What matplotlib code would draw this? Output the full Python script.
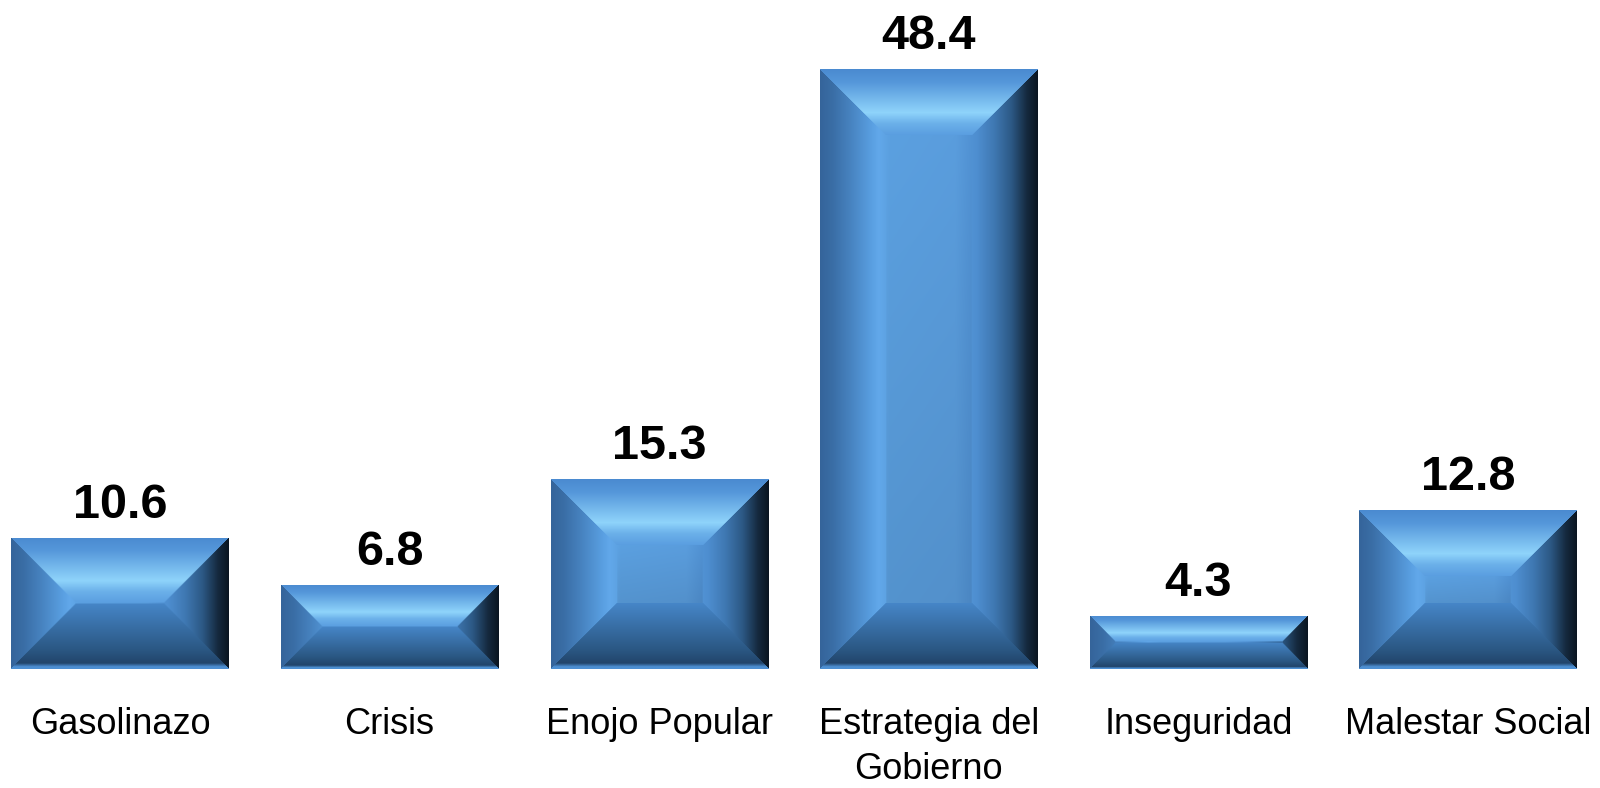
import numpy as np
import matplotlib
matplotlib.use('agg')
import matplotlib.pyplot as plt
from matplotlib.colors import to_rgb

categories = ['Gasolinazo', 'Crisis', 'Enojo Popular', 'Estrategia del\nGobierno', 'Inseguridad', 'Malestar Social']
values = [10.6, 6.8, 15.3, 48.4, 4.3, 12.8]

FONT = ['Liberation Sans Narrow', 'Liberation Sans', 'DejaVu Sans']

# colour ramps for the bevelled bars
# top / bottom: t = 0 at the outer edge, 1 at the inner edge of the bevel
TOP = [(0, '#4a8ad0'), (0.2, '#5597da'), (0.66, '#8fd4fb'), (0.82, '#6cb1ea'), (1, '#5a9ee0')]
BOTTOM = [(0, '#4d8fd2'), (0.035, '#4d8fd2'), (0.09, '#22456b'), (0.3, '#2b5884'), (1, '#4686c8')]
# sides and face share one horizontal ramp, s = 0 at left edge, 1 at right edge
ACROSS = [(0, '#35649a'), (0.06, '#3a6ea6'), (0.14, '#4783c0'), (0.24, '#5aa0e2'), (0.27, '#62a8ea'),
          (0.32, '#5ba0e0'), (0.62, '#5a9ddd'), (0.72, '#4e8ed0'), (0.8, '#3f78b2'),
          (0.88, '#2c5884'), (0.95, '#15293e'), (1, '#0a1520')]


def ramp(t, stops):
    pos = [s[0] for s in stops]
    cols = np.array([to_rgb(s[1]) for s in stops])
    return np.stack([np.interp(t, pos, cols[:, k]) for k in range(3)], axis=-1)


def bevel_image(W, H, d):
    u = np.arange(W) + 0.5
    v = np.arange(H) + 0.5
    U, V = np.meshgrid(u, v)
    dt, db = V, H - V
    ds = np.minimum(U, W - U)
    img = ramp(U / W, ACROSS)
    # slightly darker lower part of the face
    face = (ds >= d) & (dt >= d) & (db >= d)
    shade = 1.0 - 0.08 * np.clip((V - d) / max(H - 2 * d, 1), 0, 1)
    img[face] *= shade[face][:, None]
    top = (dt < d) & (dt <= ds) & (dt <= db)
    img[top] = ramp(dt[top] / d, TOP)
    bot = (db < d) & (db <= ds) & (db < dt)
    img[bot] = ramp(db[bot] / d, BOTTOM)
    return img


fig = plt.figure(figsize=(16, 7.88), dpi=100)
ax = fig.add_axes([0, 119 / 788, 1, 1 - 119 / 788])
x = np.arange(len(values))
bars = ax.bar(x, values, width=0.805, color='#4a8ad0', zorder=1)
ax.set_xlim(-0.445, 5.49)
ax.set_ylim(0, 54.0)

for b, val in zip(bars, values):
    x0, y0 = ax.transData.transform((b.get_x(), 0))
    x1, y1 = ax.transData.transform((b.get_x() + b.get_width(), b.get_height()))
    W, H = int(round(x1 - x0)), int(round(y1 - y0))
    d = min(66, H / 2, W / 2)
    img = bevel_image(W, H, d)
    im = ax.imshow(img, extent=(b.get_x(), b.get_x() + b.get_width(), 0, b.get_height()),
                   origin='upper', aspect='auto', interpolation='bilinear', zorder=2)
    im.set_clip_path(b)
    ax.annotate(f'{val:.1f}', xy=(b.get_x() + b.get_width() / 2, val), xytext=(0, 14.4),
                textcoords='offset points', ha='center', va='baseline',
                fontsize=35, fontweight='bold', family=FONT)

ax.set_xlim(-0.445, 5.49)
ax.set_ylim(0, 54.0)
ax.set_xticks(x)
ax.set_xticklabels(categories, fontsize=26, family=FONT, linespacing=1.4)
ax.tick_params(axis='x', length=0, pad=27)
ax.set_yticks([])
for sp in ax.spines.values():
    sp.set_visible(False)
ax.patch.set_visible(False)

fig.savefig('out.png', dpi=100)
